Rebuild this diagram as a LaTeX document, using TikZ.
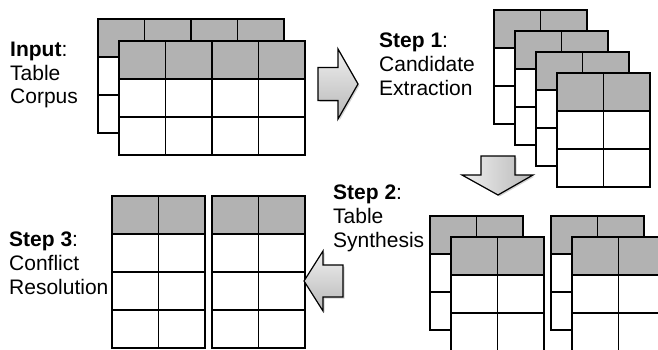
\documentclass[tikz,border=0pt]{standalone}
\usepackage{fontspec}
\setmainfont{Liberation Sans}
\usetikzlibrary{shadows}
\tikzset{
  hdr/.style={fill=black!30},
  gl/.style={line width=1.8pt, line cap=rect},
  lbl/.style={anchor=base west, inner sep=0pt, font=\fontsize{21}{24}\selectfont},
  bigarrow/.style={draw=black, line width=1.2pt, line join=miter,
    drop shadow={opacity=0.35, shadow xshift=1.5pt, shadow yshift=-1.5pt}},
  pics/tbl/.style 2 args={code={
    \fill[white] (0,0) rectangle (#1*46.5,#2*38);
    \fill[hdr] (0,0) rectangle (#1*46.5,38);
    \foreach \i in {0,...,#1} \draw[gl] (\i*46.5,0) -- (\i*46.5,#2*38);
    \foreach \j in {0,...,#2} \draw[gl] (0,\j*38) -- (#1*46.5,\j*38);
  }}
}
\begin{document}
\begin{tikzpicture}[x=1pt,y=-1pt]
\useasboundingbox (0,0) rectangle (658,350);
\clip (0,0) rectangle (658,350);
% Input tables
\pic (inA) at (98,19) {tbl={4}{3}};
\pic (inB) at (119,41) {tbl={4}{3}};
% Step 1 tables
\pic (s1A) at (494,10) {tbl={2}{3}};
\pic (s1B) at (515,31) {tbl={2}{3}};
\pic (s1C) at (536,52) {tbl={2}{3}};
\pic (s1D) at (557,73) {tbl={2}{3}};
% Step 2 tables
\pic (s2A) at (430,216) {tbl={2}{3}};
\pic (s2B) at (451,237) {tbl={2}{3}};
\pic (s2C) at (551,216) {tbl={2}{3}};
\pic (s2D) at (572,237) {tbl={2}{3}};
% Step 3 tables
\pic (s3A) at (112,196) {tbl={2}{4}};
\pic (s3B) at (212,196) {tbl={2}{4}};
% arrows
\draw[bigarrow, top color=black!6, bottom color=black!28]
  (318,67.5) -- (338,67.5) -- (338,49) -- (358,84) -- (338,119) -- (338,100.5) -- (318,100.5) -- cycle;
\draw[bigarrow, left color=black!6, right color=black!28]
  (481,156) -- (515,156) -- (515,175) -- (533,175) -- (498,195) -- (462,175) -- (481,175) -- cycle;
\draw[bigarrow, top color=black!6, bottom color=black!28]
  (343,265) -- (323,265) -- (323,251) -- (304,281) -- (323,311) -- (323,297) -- (343,297) -- cycle;
% labels
\node[lbl] (inT1) at (10,57) {\textbf{Input}:};
\node[lbl] (inT2) at (10,80.5) {Table};
\node[lbl] (inT3) at (10,104) {Corpus};
\node[lbl] (s1T1) at (379,48) {\textbf{Step 1}:};
\node[lbl] (s1T2) at (379,72) {Candidate};
\node[lbl] (s1T3) at (379,96) {Extraction};
\node[lbl] (s2T1) at (333,199) {\textbf{Step 2}:};
\node[lbl] (s2T2) at (333,223) {Table};
\node[lbl] (s2T3) at (333,247) {Synthesis};
\node[lbl] (s3T1) at (9,246) {\textbf{Step 3}:};
\node[lbl] (s3T2) at (9,270) {Conflict};
\node[lbl] (s3T3) at (9,294) {Resolution};
\end{tikzpicture}
\end{document}
